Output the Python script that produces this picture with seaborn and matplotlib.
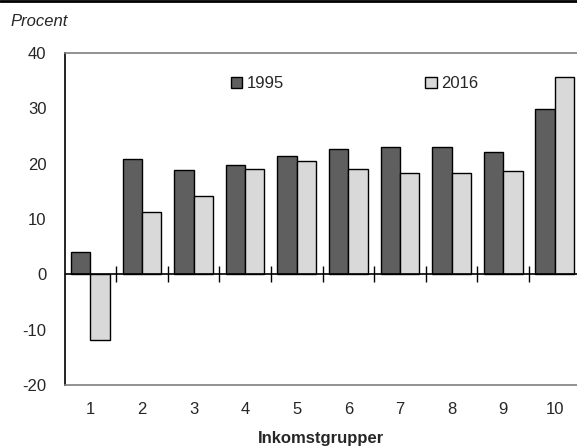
import pandas as pd
import numpy as np
import matplotlib
matplotlib.use("Agg")
import matplotlib.pyplot as plt
import seaborn as sns
from matplotlib.patches import Patch

# Data
grupper = ["1", "2", "3", "4", "5", "6", "7", "8", "9", "10"]
varden_1995 = [4.1, 20.9, 18.8, 19.7, 21.4, 22.6, 23.1, 23.0, 22.1, 29.8]
varden_2016 = [-11.9, 11.3, 14.2, 19.0, 20.4, 19.1, 18.4, 18.3, 18.6, 35.7]
ar = ["1995", "2016"]
farger = {"1995": "#5f5f5f", "2016": "#d9d9d9"}

df = pd.DataFrame({
    "Inkomstgrupp": grupper * 2,
    "Procent": varden_1995 + varden_2016,
    "Ar": [ar[0]] * len(grupper) + [ar[1]] * len(grupper),
})

sns.set_style("white")
plt.rcParams["font.family"] = ["Liberation Sans", "DejaVu Sans"]

fig = plt.figure(figsize=(5.77, 4.48), dpi=100)
ax = fig.add_axes([64.5 / 577, 1 - 385 / 448, (577 - 64.5) / 577, 332 / 448])

sns.barplot(data=df, x="Inkomstgrupp", y="Procent", hue="Ar", palette=farger,
            edgecolor="black", linewidth=1, width=0.75, gap=0, ax=ax, legend=False)

ax.set_ylim(-20, 40)
ax.set_xlim(-0.5, 9.43)
ax.set_yticks([-20, -10, 0, 10, 20, 30, 40])
ax.set_yticklabels(["-20", "-10", "0", "10", "20", "30", "40"], fontsize=12)
ax.tick_params(axis="y", direction="in", length=5, width=1, color="black", pad=13)
ax.tick_params(axis="x", length=0, pad=12, labelsize=12)
ax.set_xlabel("Inkomstgrupper", fontsize=12, fontweight="bold", labelpad=10)
ax.set_ylabel("")

# zero line with small ticks at the group boundaries
ax.axhline(0, color="black", linewidth=1.2, zorder=3)
ax.plot(np.arange(len(grupper) - 1) + 0.5, np.zeros(len(grupper) - 1), "|",
        color="black", markersize=12, markeredgewidth=1, zorder=3)

for side in ["top", "bottom"]:
    ax.spines[side].set_color("#7f7f7f")
    ax.spines[side].set_linewidth(1.2)
ax.spines["left"].set_color("black")
ax.spines["left"].set_linewidth(1.2)
ax.spines["right"].set_visible(False)

handles = [Patch(facecolor=farger[a], edgecolor="black", linewidth=1) for a in ar]
ax.legend(handles, ar, ncol=2, frameon=False, loc="upper left",
          bbox_to_anchor=(0.295, 0.975), fontsize=12, handlelength=0.7,
          handleheight=0.7, handletextpad=0.25, columnspacing=8.5)

fig.text(10 / 577, 1 - 22 / 448, "Procent", fontsize=12, style="italic", va="center")
fig.add_artist(plt.Line2D([0, 1], [1 - 1 / 448, 1 - 1 / 448], color="black", linewidth=2))

fig.savefig("out.png", dpi=100)
